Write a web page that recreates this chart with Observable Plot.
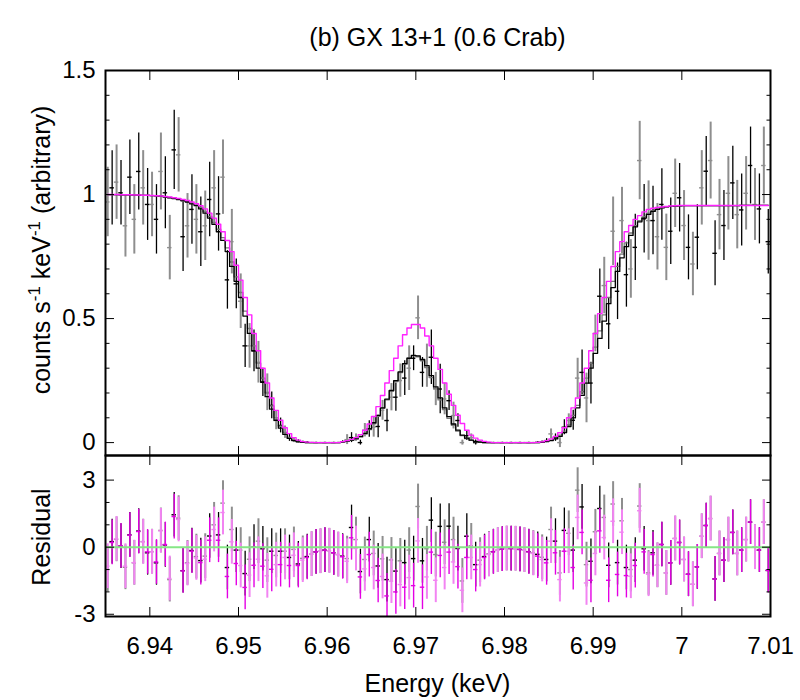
<!DOCTYPE html>
<html><head><meta charset="utf-8">
<script src="https://cdn.jsdelivr.net/npm/d3@7"></script>
<script src="https://cdn.jsdelivr.net/npm/@observablehq/plot@0.6"></script>
<style>
body{margin:0;background:#fff;}
#chart{position:relative;width:800px;height:700px;font-family:"Liberation Sans",Arial,sans-serif;}
#chart svg{position:absolute;left:0;overflow:visible;}
</style></head><body><div id="chart"></div>
<script>
const FONT = "Liberation Sans, Arial, sans-serif";
const titleText = "(b) GX 13+1 (0.6 Crab)";
const xLabel = "Energy (keV)";
const residLabel = "Residual";

// energy grid: 150 bins of 0.0005 keV starting at 6.935 keV
const binStart = 6.935, binWidth = 0.0005;

// observed rate (alternate bins: odd = black instrument, even = gray instrument)
const rate = [
 0.97,1.027,1.05,1.007,0.874,1.07,0.90,1.093,1.027,0.96,
 0.96,0.90,1.093,1.007,0.786,1.18,1.16,0.83,0.874,0.94,
 0.90,0.85,0.874,0.98,1.027,0.922,1.07,0.656,0.81,0.64,
 0.57,0.39,0.39,0.37,0.324,0.243,0.203,0.15,0.089,0.069,
 0.042,0.02,0.01,0.005,0.003,0.001,0,0,0,0,
 0,0,0,0.003,0.012,0.02,0.02,0.0,0.05,0.055,
 0.062,0.065,0.13,0.089,0.183,0.183,0.25,0.26,0.30,0.34,
 0.503,0.283,0.31,0.344,0.216,0.216,0.176,0.169,0.109,0.089,
 0.0,0.028,0.02,0.0,0.002,0.001,0,0,0,0,
 0,0,0,0,0,0,0,0.001,0.003,0.008,
 0.035,0.02,0.0,0.062,0.089,0.09,0.26,0.283,0.18,0.24,
 0.44,0.59,0.633,0.479,0.852,0.61,0.895,0.677,0.70,0.787,
 1.137,0.902,0.895,0.895,0.83,0.96,0.787,0.852,1.005,0.987,
 0.875,0.787,0.72,0.828,1.027,1.094,1.137,0.763,0.919,0.875,
 1.005,1.047,0.919,0.938,1.005,1.117,0.96,0.942,1.117,0.81];
const rateErr = [
 0.14,0.15,0.15,0.13,0.126,0.15,0.14,0.155,0.15,0.145,
 0.13,0.14,0.155,0.145,0.13,0.16,0.15,0.14,0.13,0.14,
 0.14,0.14,0.14,0.15,0.15,0.15,0.15,0.118,0.13,0.10,
 0.11,0.087,0.09,0.084,0.084,0.057,0.074,0.054,0.037,0.03,
 0.025,0.015,0.01,0.006,0.004,0.002,0.001,0.001,0.001,0.001,
 0.001,0.001,0.002,0.004,0.02,0.02,0.015,0.01,0.027,0.033,
 0.04,0.045,0.04,0.045,0.055,0.057,0.067,0.07,0.09,0.05,
 0.088,0.06,0.087,0.11,0.067,0.10,0.064,0.04,0.054,0.027,
 0.01,0.02,0.015,0.01,0.004,0.002,0.001,0.001,0.001,0.001,
 0.001,0.001,0.001,0.001,0.001,0.001,0.001,0.002,0.005,0.008,
 0.02,0.015,0.02,0.03,0.027,0.04,0.08,0.09,0.10,0.084,
 0.074,0.11,0.114,0.104,0.138,0.114,0.134,0.131,0.118,0.134,
 0.158,0.138,0.16,0.138,0.134,0.144,0.134,0.134,0.138,0.138,
 0.141,0.131,0.128,0.131,0.15,0.14,0.155,0.131,0.142,0.141,
 0.148,0.148,0.138,0.145,0.148,0.155,0.145,0.141,0.155,0.13];

// model curves
const modelBlack = [
 1.000,1.000,1.000,0.999,0.999,0.999,0.998,0.998,0.997,0.997,
 0.996,0.995,0.993,0.990,0.987,0.984,0.980,0.975,0.970,0.962,
 0.955,0.942,0.925,0.905,0.880,0.850,0.815,0.770,0.710,0.650,
 0.585,0.510,0.440,0.370,0.300,0.245,0.185,0.135,0.090,0.058,
 0.033,0.017,0.008,0.003,0.001,0,0,0,0,0,
 0,0,0,0.003,0.006,0.010,0.016,0.025,0.037,0.055,
 0.080,0.110,0.140,0.175,0.210,0.250,0.285,0.318,0.340,0.352,
 0.350,0.335,0.310,0.270,0.225,0.180,0.140,0.105,0.075,0.050,
 0.030,0.018,0.010,0.005,0.002,0,0,0,0,0,
 0,0,0,0,0,0,0,0,0.001,0.004,
 0.008,0.015,0.025,0.040,0.065,0.100,0.140,0.190,0.240,0.300,
 0.360,0.420,0.490,0.560,0.625,0.690,0.745,0.790,0.835,0.870,
 0.890,0.905,0.920,0.932,0.940,0.946,0.950,0.952,0.953,0.954,
 0.955,0.955,0.955,0.955,0.955,0.955,0.955,0.955,0.955,0.955,
 0.955,0.955,0.955,0.956,0.956,0.956,0.956,0.956,0.956,0.956];
const modelGray = [
 1.000,1.000,1.000,0.999,0.999,0.999,0.998,0.998,0.997,0.997,
 0.996,0.995,0.993,0.991,0.988,0.985,0.982,0.978,0.972,0.965,
 0.958,0.948,0.932,0.912,0.888,0.860,0.826,0.785,0.728,0.668,
 0.605,0.530,0.460,0.390,0.320,0.260,0.200,0.148,0.100,0.066,
 0.040,0.021,0.010,0.004,0.001,0,0,0,0,0,
 0,0,0,0.002,0.005,0.009,0.014,0.022,0.034,0.052,
 0.076,0.106,0.138,0.172,0.208,0.246,0.282,0.316,0.340,0.350,
 0.346,0.330,0.302,0.262,0.218,0.172,0.133,0.098,0.070,0.046,
 0.028,0.016,0.009,0.004,0.001,0,0,0,0,0,
 0,0,0,0,0,0,0,0,0.001,0.005,
 0.010,0.018,0.030,0.046,0.072,0.110,0.150,0.205,0.260,0.320,
 0.385,0.450,0.515,0.585,0.650,0.710,0.760,0.805,0.845,0.875,
 0.895,0.910,0.925,0.935,0.942,0.947,0.950,0.952,0.953,0.954,
 0.955,0.955,0.955,0.955,0.955,0.955,0.955,0.955,0.955,0.955,
 0.955,0.955,0.955,0.956,0.956,0.956,0.956,0.956,0.956,0.956];
const modelMagenta = [
 1.000,1.000,1.000,0.999,0.999,0.999,0.998,0.998,0.997,0.997,
 0.996,0.995,0.994,0.992,0.990,0.987,0.984,0.980,0.976,0.970,
 0.963,0.955,0.942,0.925,0.905,0.880,0.850,0.815,0.770,0.715,
 0.655,0.585,0.515,0.440,0.370,0.300,0.240,0.180,0.130,0.090,
 0.060,0.036,0.020,0.010,0.004,0.002,0.001,0,0,0,
 0,0,0,0.004,0.008,0.013,0.020,0.032,0.050,0.075,
 0.105,0.145,0.190,0.240,0.290,0.340,0.390,0.435,0.462,0.476,
 0.476,0.462,0.430,0.390,0.340,0.295,0.240,0.195,0.150,0.110,
 0.077,0.050,0.030,0.018,0.010,0.005,0.002,0,0,0,
 0,0,0,0,0,0,0,0.001,0.003,0.008,
 0.015,0.025,0.040,0.060,0.100,0.140,0.180,0.240,0.300,0.370,
 0.440,0.520,0.585,0.650,0.710,0.770,0.810,0.850,0.875,0.900,
 0.915,0.930,0.940,0.945,0.948,0.950,0.952,0.954,0.955,0.956,
 0.956,0.956,0.956,0.956,0.956,0.956,0.956,0.956,0.956,0.956,
 0.956,0.956,0.956,0.956,0.956,0.956,0.956,0.956,0.956,0.956];

// residuals (sigma units) against black/gray model and magenta model
const residBlack = [
 -1.00,0.25,0.35,0.05,-0.90,0.55,-0.70,0.72,0.25,-0.25,
 -0.20,-0.70,0.75,0.10,-1.45,1.45,1.30,-1.05,-0.70,-0.15,
 -0.42,-0.60,-0.40,0.50,1.00,0.55,1.97,-0.91,0.79,-0.13,
 -0.13,-1.18,-0.54,0.00,0.27,-0.07,-0.58,-0.18,-0.37,-0.18,
 -0.18,-0.46,-0.10,-0.75,-0.50,-0.42,-0.31,-0.21,-0.18,-0.13,
 -0.16,-0.25,-0.33,-0.40,-0.51,0.88,0.34,-1.09,-0.55,0.34,
 -0.28,-0.84,-0.52,-1.45,-0.57,-1.07,-0.61,-0.69,-0.13,-0.51,
 1.82,-0.61,-0.07,1.21,-0.33,0.93,0.22,0.94,0.34,-0.06,
 -1.51,0.49,0.06,-0.78,-0.58,-0.42,-0.30,-0.20,-0.13,-0.09,
 -0.06,-0.06,-0.07,-0.10,-0.13,-0.20,-0.26,-0.32,-0.45,-0.55,
 0.79,0.27,-1.15,0.75,0.62,-0.13,2.55,1.80,-0.78,-0.63,
 0.69,1.73,1.33,-0.81,1.93,-0.69,1.18,-0.91,-1.00,-0.58,
 1.84,-0.07,-1.15,-0.25,-0.81,0.12,-1.15,-0.70,0.39,0.21,
 -0.55,-1.21,-1.66,-0.88,0.49,0.97,1.28,-1.42,-0.28,-0.58,
 0.34,0.66,-0.28,-0.13,0.34,1.12,0.00,-0.13,1.12,-1.04];
const residMagenta = [
 -0.85,0.21,0.37,0.06,-0.85,0.54,-0.69,0.70,0.24,-0.21,
 -0.21,-0.66,0.73,0.12,-1.40,1.37,1.24,-1.06,-0.73,-0.18,
 -0.48,-0.69,-0.54,0.31,0.79,0.31,1.55,-1.31,0.24,-0.73,
 -0.82,-1.80,-1.25,-0.81,-0.54,-0.85,-1.28,-0.99,-0.78,-0.78,
 -0.46,-0.82,-0.36,-0.82,-0.58,-0.46,-0.31,-0.21,-0.18,-0.13,
 -0.16,-0.25,-0.33,-0.43,-0.63,0.42,-0.06,-1.33,-0.97,-0.33,
 -0.91,-1.49,-1.31,-2.18,-1.52,-2.00,-1.67,-1.79,-1.36,-1.72,
 0.28,-1.79,-1.33,-0.22,-1.48,-0.37,-0.91,-0.22,-0.66,-0.87,
 -1.93,-0.46,-0.46,-1.00,-0.78,-0.46,-0.33,-0.21,-0.13,-0.09,
 -0.06,-0.06,-0.07,-0.10,-0.13,-0.21,-0.28,-0.40,-0.55,-0.70,
 0.27,-0.25,-1.45,-0.18,-0.18,-0.91,1.33,0.66,-1.60,-1.48,
 -0.28,0.73,0.43,-1.48,1.16,-1.22,0.67,-1.27,-1.30,-0.82,
 1.63,-0.21,-1.21,-0.33,-0.81,0.12,-1.15,-0.70,0.39,0.21,
 -0.55,-1.21,-1.66,-0.88,0.49,0.97,1.28,-1.42,-0.28,-0.58,
 0.34,0.66,-0.28,-0.13,0.34,1.12,0.00,-0.13,1.12,-1.04];
const residErr = 1;

// axis ticks
const xTicks = [6.94, 6.95, 6.96, 6.97, 6.98, 6.99, 7, 7.01];
const yTopMajor = [0, 0.5, 1, 1.5];
const yTopMinor = [0.1,0.2,0.3,0.4,0.6,0.7,0.8,0.9,1.1,1.2,1.3,1.4];
const yResMajor = [-3, 0, 3];
const yResMinor = [-2, -1, 1, 2];

const rows = rate.map((v, k) => ({
  k, e: binStart + binWidth * (k + 0.5),
  rate: v, err: rateErr[k],
  mB: modelBlack[k], mG: modelGray[k], mM: modelMagenta[k],
  r1: residBlack[k], r2: residMagenta[k]
}));
const blackRows = rows.filter(d => d.k % 2 === 1);
const grayRows = rows.filter(d => d.k % 2 === 0);
const half = binWidth / 2;

const C = {black:"#000000", gray:"#8e8e8e", mag:"#e400e4", pink:"#f284f2", line:"#ff22ff", green:"#86e686"};
const xDomain = [6.935, 7.01];

function errBars(data, yField, errF, color, w) {
  return [
    Plot.ruleX(data, {x:"e", y1: d => d[yField] - errF(d), y2: d => d[yField] + errF(d), stroke: color, strokeWidth: w, clip: true}),
    Plot.ruleY(data, {y: yField, x1: d => d.e - half, x2: d => d.e + half, stroke: color, strokeWidth: 1.4, clip: true})
  ];
}
function tickMarks(major, minor, axisFn, anchors) {
  const out = [];
  for (const a of anchors) {
    out.push(axisFn(major, {anchor: a, tickSize: -9, fill: "none", stroke: "#000", strokeWidth: 1, label: null}));
    if (minor) out.push(axisFn(minor, {anchor: a, tickSize: -4.5, fill: "none", stroke: "#000", strokeWidth: 1, label: null}));
  }
  return out;
}

const topPlot = Plot.plot({
  width: 800, height: 465,
  marginTop: 70, marginBottom: 10, marginLeft: 105, marginRight: 30,
  style: {fontFamily: FONT, background: "transparent"},
  x: {domain: xDomain, axis: null},
  y: {domain: [-0.052, 1.5], axis: null},
  marks: [
    ...errBars(grayRows, "rate", d => d.err, C.gray, 2),
    ...errBars(blackRows, "rate", d => d.err, C.black, 1.3),
    Plot.line(rows, {x:"e", y:"mG", curve:"step", stroke:"#7a7a7a", strokeWidth:1.3}),
    Plot.line(rows, {x:"e", y:"mB", curve:"step", stroke:"#000", strokeWidth:1.3}),
    Plot.line(rows, {x:"e", y:"mM", curve:"step", stroke:C.line, strokeWidth:1.4}),
    ...tickMarks(yTopMajor, yTopMinor, Plot.axisY, ["left","right"]),
    ...tickMarks(xTicks, null, Plot.axisX, ["top","bottom"]),
    Plot.axisY(yTopMajor, {anchor:"left", tickSize:0, tickPadding:10, tickFormat: d => String(d), fontSize: 24, fill:"#000", label:null}),
    Plot.frame({stroke:"#000", strokeWidth: 2})
  ]
});
topPlot.style.top = "0px";

const bottomPlot = Plot.plot({
  width: 800, height: 255,
  marginTop: 10, marginBottom: 84, marginLeft: 105, marginRight: 30,
  style: {fontFamily: FONT, background: "transparent"},
  x: {domain: xDomain, axis: null},
  y: {domain: [-3.1, 4.1], axis: null},
  marks: [
    ...errBars(grayRows, "r1", () => residErr, C.gray, 2),
    ...errBars(blackRows, "r1", () => residErr, C.black, 1.3),
    ...errBars(grayRows, "r2", () => residErr, C.pink, 2),
    ...errBars(blackRows, "r2", () => residErr, C.mag, 1.4),
    Plot.ruleY([0], {stroke: C.green, strokeWidth: 2}),
    ...tickMarks(yResMajor, yResMinor, Plot.axisY, ["left","right"]),
    ...tickMarks(xTicks, null, Plot.axisX, ["top","bottom"]),
    Plot.axisY(yResMajor, {anchor:"left", tickSize:0, tickPadding:10, tickFormat: d => String(d), fontSize: 24, fill:"#000", label:null}),
    Plot.axisX(xTicks, {anchor:"bottom", tickSize:0, tickPadding:20, tickFormat: d => String(d), fontSize: 24, fill:"#000", label:null}),
    Plot.frame({stroke:"#000", strokeWidth: 2})
  ]
});
bottomPlot.style.top = "445px";

const chart = document.getElementById("chart");
chart.appendChild(topPlot);
chart.appendChild(bottomPlot);

// overlay for title and axis labels
const ov = d3.select(chart).append("svg")
  .attr("width", 800).attr("height", 700)
  .style("top", "0px").style("pointer-events", "none")
  .attr("font-family", FONT).attr("fill", "#000");
ov.append("text").attr("x", 437.5).attr("y", 46).attr("text-anchor", "middle")
  .attr("font-size", 25).text(titleText);
ov.append("text").attr("x", 437.5).attr("y", 692).attr("text-anchor", "middle")
  .attr("font-size", 25).text(xLabel);
const yl = ov.append("text").attr("transform", "translate(50,250) rotate(-90)")
  .attr("text-anchor", "middle").attr("font-size", 25);
yl.append("tspan").text("counts s");
yl.append("tspan").attr("dy", -10).attr("font-size", 17).text("-1");
yl.append("tspan").attr("dy", 10).text(" keV");
yl.append("tspan").attr("dy", -10).attr("font-size", 17).text("-1");
yl.append("tspan").attr("dy", 10).text(" (arbitrary)");
ov.append("text").attr("transform", "translate(50,537) rotate(-90)")
  .attr("text-anchor", "middle").attr("font-size", 25).text(residLabel);
</script></body></html>
